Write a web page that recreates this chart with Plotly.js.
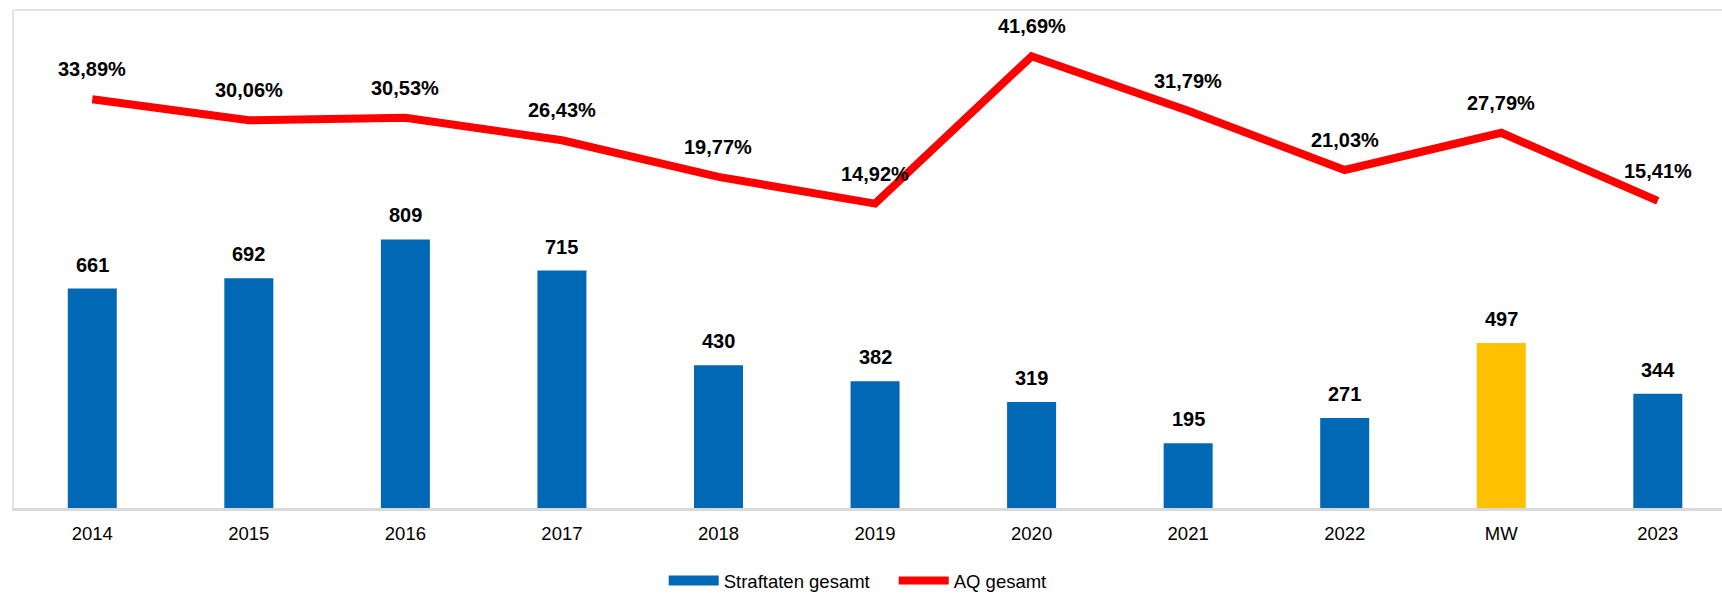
<!DOCTYPE html>
<html>
<head>
<meta charset="utf-8">
<script src="https://cdn.plot.ly/plotly-3.0.1.min.js"></script>
<style>html,body{margin:0;padding:0;background:#fff;}#chart{width:1722px;height:593px;}</style>
</head>
<body>
<div id="chart"></div>
<script>
// Data
const categories = ["2014", "2015", "2016", "2017", "2018", "2019", "2020", "2021", "2022", "MW", "2023"];
const straftaten = [661, 692, 809, 715, 430, 382, 319, 195, 271, 497, 344];
const aqGesamt = [33.89, 30.06, 30.53, 26.43, 19.77, 14.92, 41.69, 31.79, 21.03, 27.79, 15.41];

const BLUE = "#0068b4";
const GOLD = "#ffc000";
const RED = "#ff0000";
const FONT = "Liberation Sans, Arial, sans-serif";

const barColors = categories.map(c => c === "MW" ? GOLD : BLUE);
const fmtPct = v => v.toFixed(2).replace(".", ",") + "%";

const traces = [
  {
    type: "bar",
    x: categories,
    y: straftaten,
    width: 0.313,
    marker: {color: barColors},
    showlegend: false,
    hoverinfo: "x+y"
  },
  {
    type: "scatter",
    mode: "lines",
    x: [null],
    y: [null],
    name: "Straftaten gesamt",
    line: {color: BLUE, width: 10},
    showlegend: true
  },
  {
    type: "scatter",
    mode: "lines",
    x: categories,
    y: aqGesamt,
    yaxis: "y2",
    name: "AQ gesamt",
    line: {color: RED, width: 8},
    showlegend: true
  }
];

const annotations = [];
categories.forEach((c, i) => {
  annotations.push({
    x: i, y: straftaten[i], xref: "x", yref: "y",
    text: "<b>" + straftaten[i] + "</b>",
    showarrow: false, yanchor: "bottom", yshift: 11,
    font: {family: FONT, size: 20, color: "#000"}
  });
  annotations.push({
    x: i, y: aqGesamt[i], xref: "x", yref: "y2",
    text: "<b>" + fmtPct(aqGesamt[i]) + "</b>",
    showarrow: false, yanchor: "middle", yshift: 30,
    font: {family: FONT, size: 20, color: "#000"}
  });
});

const layout = {
  width: 1722,
  height: 593,
  margin: {l: 14, r: 0, t: 10, b: 85},
  paper_bgcolor: "#fff",
  plot_bgcolor: "#fff",
  font: {family: FONT, color: "#000"},
  xaxis: {
    type: "category",
    range: [-0.5, 10.41],
    showgrid: false,
    zeroline: false,
    showline: true,
    linecolor: "#d9d9d9",
    linewidth: 3,
    ticks: "",
    ticklabelstandoff: 7,
    tickfont: {family: FONT, size: 18.5, color: "#000"},
    fixedrange: true
  },
  yaxis: {
    range: [0, 1500],
    showgrid: false,
    zeroline: false,
    showline: true,
    linecolor: "#e3e3e3",
    linewidth: 2,
    showticklabels: false,
    ticks: ""
  },
  yaxis2: {
    range: [-40.4, 50.1],
    overlaying: "y",
    side: "right",
    showgrid: false,
    zeroline: false,
    showline: false,
    showticklabels: false,
    ticks: ""
  },
  shapes: [
    {type: "line", xref: "paper", yref: "paper", x0: 0, x1: 1, y0: 1, y1: 1,
     line: {color: "#e3e3e3", width: 2}}
  ],
  legend: {
    orientation: "h",
    xref: "container",
    x: 0.519, xanchor: "center",
    yref: "container",
    y: 0.0202, yanchor: "middle",
    font: {family: FONT, size: 18.5, color: "#000"},
    bgcolor: "rgba(0,0,0,0)",
    itemwidth: 50,
    entrywidth: 165,
    traceorder: "normal"
  },
  annotations: annotations,
  bargap: 0.5
};

Plotly.newPlot("chart", traces, layout, {displayModeBar: false, staticPlot: true});
</script>
</body>
</html>
